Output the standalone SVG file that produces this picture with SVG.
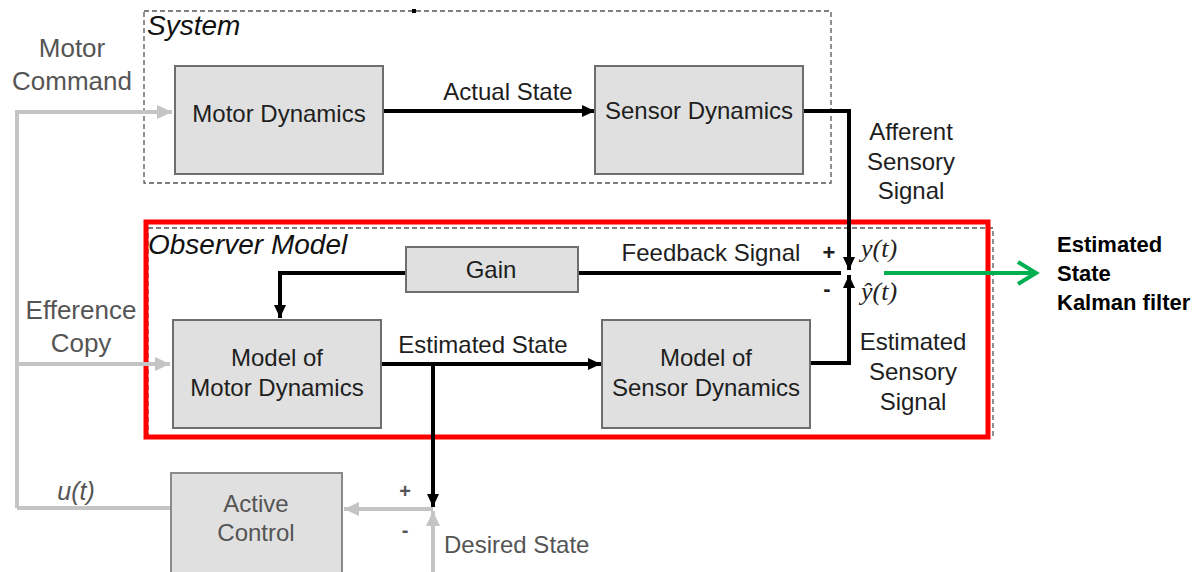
<svg xmlns="http://www.w3.org/2000/svg" width="1196" height="572" viewBox="0 0 1196 572">
<style>
.box{fill:#e0e0e0;stroke:#6e6e6e;stroke-width:2}
.gbox{fill:#e0e0e0;stroke:#8a8a8a;stroke-width:2}
.t{font-family:"Liberation Sans",Arial,sans-serif;font-size:24px;fill:#1e1e1e;text-anchor:middle}
.g{font-family:"Liberation Sans",Arial,sans-serif;font-size:26px;fill:#555;text-anchor:middle}
.it{font-family:"Liberation Sans",Arial,sans-serif;font-size:28px;font-style:italic;fill:#111}
.m{font-family:"Liberation Serif","Times New Roman",serif;font-size:26px;font-style:italic;fill:#222}
.b{font-family:"Liberation Sans",Arial,sans-serif;font-size:22px;font-weight:bold;fill:#000}
.k{fill:none;stroke:#000;stroke-width:4}
.gl{fill:none;stroke:#c4c4c4;stroke-width:4}
.dash{fill:none;stroke:#555;stroke-width:1.3;stroke-dasharray:5,3}
</style>
<defs>
<marker id="ak" markerUnits="userSpaceOnUse" markerWidth="14" markerHeight="14" refX="13" refY="7" orient="auto"><path d="M0,1 L13,7 L0,13 Z" fill="#000"/></marker>
<marker id="ag" markerUnits="userSpaceOnUse" markerWidth="16" markerHeight="16" refX="15" refY="8" orient="auto"><path d="M0,1 L15,8 L0,15 Z" fill="#c4c4c4"/></marker>
</defs>
<rect width="1196" height="572" fill="#fff"/>
<g id="system-frame">
<rect class="dash" x="144" y="11" width="687" height="172"/>
<rect x="412" y="9" width="4" height="4" fill="#000"/>
<text class="it" x="147" y="35">System</text>
</g>
<g id="observer-frame">
<rect class="dash" x="148" y="228" width="845" height="208"/>
<rect x="146" y="222" width="842" height="215" fill="none" stroke="#ff0000" stroke-width="5"/>
<text class="it" x="148" y="254">Observer Model</text>
</g>
<g id="connectors">
<path class="gl" d="M17,508 L17,112 L172,112" marker-end="url(#ag)"/>
<path class="gl" d="M17,364 L170,364" marker-end="url(#ag)"/>
<path class="gl" d="M171,508 L17,508"/>
<path class="gl" d="M433,509 L344,509" marker-end="url(#ag)"/>
<path class="gl" d="M433,572 L433,511" marker-end="url(#ag)"/>
<path class="k" d="M383,111 L595,111" marker-end="url(#ak)"/>
<path class="k" d="M803,111 L849,111 L849,270" marker-end="url(#ak)"/>
<path class="k" d="M810,363 L849,363 L849,275" marker-end="url(#ak)"/>
<path class="k" d="M578,273 L841,273"/>
<path class="k" d="M406,273 L280,273 L280,318" marker-end="url(#ak)"/>
<path class="k" d="M381,364 L601,364" marker-end="url(#ak)"/>
<path class="k" d="M433,364 L433,507" marker-end="url(#ak)"/>
<path d="M884,273 L1036,273 M1018,262 L1036,273 L1018,284" fill="none" stroke="#00b050" stroke-width="4"/>
</g>
<g id="motor-dynamics">
<rect class="box" x="175" y="66" width="208" height="108"/>
<text class="t" x="279" y="122">Motor Dynamics</text>
</g>
<g id="sensor-dynamics">
<rect class="box" x="595" y="66" width="208" height="108"/>
<text class="t" x="699" y="119">Sensor Dynamics</text>
</g>
<g id="gain">
<rect class="box" x="406" y="247" width="172" height="45"/>
<text class="t" x="491" y="278">Gain</text>
</g>
<g id="model-motor">
<rect class="box" x="173" y="320" width="208" height="108"/>
<text class="t" x="277" y="366">Model of</text>
<text class="t" x="277" y="396">Motor Dynamics</text>
</g>
<g id="model-sensor">
<rect class="box" x="602" y="320" width="208" height="108"/>
<text class="t" x="706" y="366">Model of</text>
<text class="t" x="706" y="396">Sensor Dynamics</text>
</g>
<g id="active-control">
<rect class="gbox" x="171" y="473" width="171" height="110"/>
<text class="g" x="256" y="512" style="font-size:24px">Active</text>
<text class="g" x="256" y="541" style="font-size:24px">Control</text>
</g>
<g id="labels">
<text class="g" x="72" y="57">Motor</text>
<text class="g" x="72" y="90">Command</text>
<text class="g" x="81" y="319">Efference</text>
<text class="g" x="81" y="352">Copy</text>
<text class="g" x="76" y="500" style="font-style:italic;font-size:25px">u(t)</text>
<text class="t" x="508" y="100">Actual State</text>
<text class="t" x="911" y="140">Afferent</text>
<text class="t" x="911" y="170">Sensory</text>
<text class="t" x="911" y="199">Signal</text>
<text class="t" x="711" y="261">Feedback Signal</text>
<text class="t" x="829" y="260" style="font-weight:bold;font-size:22px">+</text>
<text class="t" x="827" y="296" style="font-weight:bold;font-size:22px">-</text>
<text class="m" x="861" y="257">y(t)</text>
<text class="m" x="861" y="300">ŷ(t)</text>
<text class="t" x="483" y="353">Estimated State</text>
<text class="t" x="913" y="350">Estimated</text>
<text class="t" x="913" y="380">Sensory</text>
<text class="t" x="913" y="410">Signal</text>
<text class="b" x="1057" y="252">Estimated</text>
<text class="b" x="1057" y="281">State</text>
<text class="b" x="1057" y="310">Kalman filter</text>
<text class="g" x="405" y="498" style="font-weight:bold;font-size:20px">+</text>
<text class="g" x="405" y="537" style="font-weight:bold;font-size:20px">-</text>
<text class="g" x="444" y="553" style="text-anchor:start;font-size:24px">Desired State</text>
</g>
</svg>
